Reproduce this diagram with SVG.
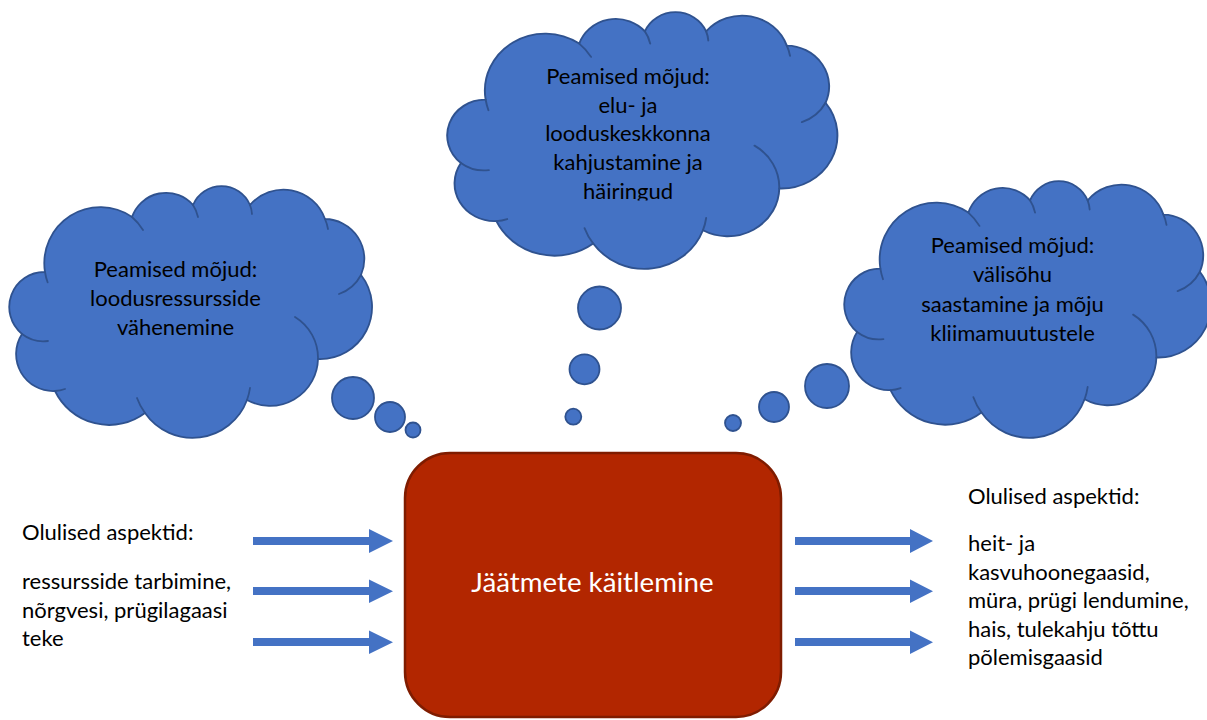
<svg xmlns="http://www.w3.org/2000/svg" xmlns:xlink="http://www.w3.org/1999/xlink" width="1207" height="720" viewBox="0 0 1207 720">
  <style>
    .cloud { fill: #4472C4; stroke: #2F528F; stroke-width: 1.8; vector-effect: non-scaling-stroke; stroke-linejoin: round; }
    .crease { fill: none; stroke: #2F528F; stroke-width: 1.8; vector-effect: non-scaling-stroke; stroke-linecap: round; }
    .bubble { fill: #4472C4; stroke: #2F528F; stroke-width: 1.8; }
    .label { font-family: Lato, "Liberation Sans", sans-serif; font-size: 22px; fill: #000; }
    .mid { text-anchor: middle; }
    .arrow { fill: #4472C4; }
    .box { fill: #B22600; stroke: #7F1C00; stroke-width: 2.5; }
    .title { font-family: Lato, "Liberation Sans", sans-serif; font-size: 27.7px; fill: #FFFFFF; text-anchor: middle; }
  </style>
  <defs>
    <!-- cloud outline in a 357 x 250 box -->
    <path id="cloud-shape" d="M35,85 A35,35 0 0 0 12,147 A37,37 0 0 0 45,204 A60,60 0 0 0 135,226 A58,58 0 0 0 237,213 A48,48 0 0 0 308,172 A52,52 0 0 0 351,88 A40,40 0 0 0 315,32 A44,44 0 0 0 240,18 A31,31 0 0 0 183,18 A36,36 0 0 0 122,30 A56,56 0 0 0 35,85 Z"/>
    <!-- inner creases where the puffs overlap -->
    <path id="cloud-creases" d="M133,43 A56,56 0 0 0 122,30 M188,30 A36,36 0 0 0 183,18 M242,27 A31,31 0 0 0 240,18 M318,42 A44,44 0 0 0 315,32 M329,107 A40,40 0 0 0 351,88 M308,172 A48,48 0 0 0 285,130 M237,213 A58,58 0 0 0 240,201 M127,211 A58,58 0 0 0 135,226 M45,204 A37,37 0 0 0 55,202 M12,147 A35,35 0 0 0 38,154 M35,85 A56,56 0 0 0 37.6,95.3"/>
    <clipPath id="top-text-clip">
      <rect x="448" y="13" width="384" height="187.6"/>
    </clipPath>
  </defs>

  <!-- left thought cloud -->
  <g id="cloud-resources">
    <g transform="translate(10,187)">
      <use xlink:href="#cloud-shape" class="cloud"/>
      <use xlink:href="#cloud-creases" class="crease"/>
    </g>
    <circle class="bubble" cx="353" cy="398" r="21"/>
    <circle class="bubble" cx="390" cy="417" r="15"/>
    <circle class="bubble" cx="413" cy="430" r="7.5"/>
    <text class="label mid" x="175.5" y="277">Peamised mõjud:</text>
    <text class="label mid" x="175.5" y="306">loodusressursside</text>
    <text class="label mid" x="175.5" y="335">vähenemine</text>
  </g>

  <!-- top thought cloud -->
  <g id="cloud-habitat">
    <g transform="translate(448,13) scale(1.0756,1.02)">
      <use xlink:href="#cloud-shape" class="cloud"/>
      <use xlink:href="#cloud-creases" class="crease"/>
    </g>
    <circle class="bubble" cx="599.5" cy="308" r="21.5"/>
    <circle class="bubble" cx="584.5" cy="369.3" r="15"/>
    <circle class="bubble" cx="573.3" cy="416.7" r="8"/>
    <g clip-path="url(#top-text-clip)">
      <text class="label mid" x="628" y="83.5">Peamised mõjud:</text>
      <text class="label mid" x="628" y="112.5">elu- ja</text>
      <text class="label mid" x="628" y="141">looduskeskkonna</text>
      <text class="label mid" x="628" y="170">kahjustamine ja</text>
      <text class="label mid" x="628" y="199">häiringud</text>
    </g>
  </g>

  <!-- right thought cloud -->
  <g id="cloud-air">
    <g transform="translate(845,182) scale(1.011,1.02)">
      <use xlink:href="#cloud-shape" class="cloud"/>
      <use xlink:href="#cloud-creases" class="crease"/>
    </g>
    <circle class="bubble" cx="827" cy="386" r="22"/>
    <circle class="bubble" cx="774" cy="407" r="15"/>
    <circle class="bubble" cx="733" cy="423" r="8"/>
    <text class="label mid" x="1012.5" y="253">Peamised mõjud:</text>
    <text class="label mid" x="1012.5" y="282.3">välisõhu</text>
    <text class="label mid" x="1012.5" y="311.6">saastamine ja mõju</text>
    <text class="label mid" x="1012.5" y="341">kliimamuutustele</text>
  </g>

  <!-- central process -->
  <g id="process">
    <rect class="box" x="405" y="453" width="376" height="264" rx="45" ry="45"/>
    <text class="title" x="592.5" y="591.7">Jäätmete käitlemine</text>
  </g>

  <!-- input aspects -->
  <g id="inputs">
    <text class="label" x="22" y="540">Olulised aspektid:</text>
    <text class="label" x="22" y="589">ressursside tarbimine,</text>
    <text class="label" x="22" y="617.5">nõrgvesi, prügilagaasi</text>
    <text class="label" x="22" y="646">teke</text>
  </g>

  <!-- output aspects -->
  <g id="outputs">
    <text class="label" x="968" y="504">Olulised aspektid:</text>
    <text class="label" x="968" y="551">heit- ja</text>
    <text class="label" x="968" y="580">kasvuhoonegaasid,</text>
    <text class="label" x="968" y="608.3">müra, prügi lendumine,</text>
    <text class="label" x="968" y="636.7">hais, tulekahju tõttu</text>
    <text class="label" x="968" y="665">põlemisgaasid</text>
  </g>

  <!-- block arrows into and out of the process -->
  <g id="connectors">
    <polygon class="arrow" points="253,537 369,537 369,529 393,541 369,553 369,545 253,545"/>
    <polygon class="arrow" points="253,587 369,587 369,579.5 393,591.2 369,603 369,595 253,595"/>
    <polygon class="arrow" points="253,638 369,638 369,630.5 393,642.3 369,654 369,646 253,646"/>
    <polygon class="arrow" points="795,537 910,537 910,529 933,541 910,553 910,545 795,545"/>
    <polygon class="arrow" points="795,587 910,587 910,579.5 933,591.2 910,603 910,595 795,595"/>
    <polygon class="arrow" points="795,638 910,638 910,630.5 933,642.3 910,654 910,646 795,646"/>
  </g>
</svg>
